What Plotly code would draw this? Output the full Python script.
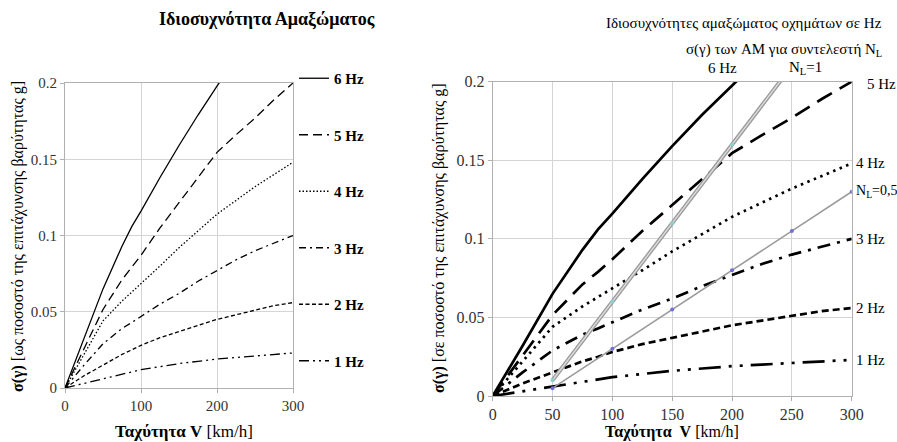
import plotly.graph_objects as go

# ---------------- data ----------------
speed = [0, 25, 50, 75, 88, 100, 125, 150, 175, 200, 225, 250, 275, 300]
hz6 = [0, 0.032, 0.065, 0.093, 0.106, 0.116, 0.138, 0.159, 0.179, 0.198, 0.216, None, None, None]
hz5 = [0, 0.026, 0.0515, 0.071, 0.079, 0.087, 0.105, 0.1215, 0.138, 0.1545, 0.166, 0.177, 0.189, 0.2]
hz4 = [0, 0.022, 0.044, 0.057, 0.063, 0.068, 0.080, 0.092, 0.103, 0.114, 0.123, 0.132, 0.140, 0.148]
hz3 = [0, 0.015, 0.029, 0.039, 0.043, 0.047, 0.055, 0.062, 0.070, 0.077, 0.084, 0.090, 0.095, 0.100]
hz2 = [0, 0.008, 0.015, 0.022, 0.025, 0.028, 0.033, 0.037, 0.041, 0.045, 0.048, 0.051, 0.054, 0.056]
hz1 = [0, 0.003, 0.006, 0.009, 0.0105, 0.012, 0.014, 0.016, 0.0175, 0.019, 0.020, 0.021, 0.022, 0.023]

nl1_speed = [50, 100, 150, 200, 250]
nl1 = [0.01, 0.06, 0.11, 0.16, 0.21]
nl05_speed = [50, 100, 150, 200, 250, 300]
nl05 = [0.005, 0.03, 0.055, 0.08, 0.105, 0.13]

series_names = ["6 Hz", "5 Hz", "4 Hz", "3 Hz", "2 Hz", "1 Hz"]
series_vals = [hz6, hz5, hz4, hz3, hz2, hz1]

left_x_ticks = [0, 100, 200, 300]
right_x_ticks = [0, 50, 100, 150, 200, 250, 300]
y_ticks = [0, 0.05, 0.1, 0.15, 0.2]
y_tick_text = ["0", "0.05", "0.1", "0.15", "0.2"]

# ---------------- styles ----------------
FONT = "Liberation Serif"
left_dash = ["solid", "9px,5px", "1.5px,2px", "7px,4px,2px,4px", "4px,2.5px", "10px,4px,2px,4px,2px,4px"]
right_dash = ["solid", "17px,9px", "2.5px,4.5px", "13px,7px,3px,7px", "7px,4px", "22px,8px,3px,8px,3px,8px"]

W, H = 897, 442
def px(x):
    return x / W
def py(y):
    return 1 - y / H

fig = go.Figure()

for i, (name, vals) in enumerate(zip(series_names, series_vals)):
    fig.add_trace(go.Scatter(
        x=speed, y=vals, mode="lines", name=name,
        line=dict(color="black", width=1.3, dash=left_dash[i]),
        xaxis="x", yaxis="y", legendgroup=name, showlegend=True,
        hoverinfo="skip"))

for i, (name, vals) in enumerate(zip(series_names, series_vals)):
    fig.add_trace(go.Scatter(
        x=speed, y=vals, mode="lines", name=name,
        line=dict(color="black", width=2.7, dash=right_dash[i]),
        xaxis="x2", yaxis="y2", showlegend=False, hoverinfo="skip"))

# N_L = 1 (double grey line)
fig.add_trace(go.Scatter(x=nl1_speed, y=nl1, mode="lines",
                         line=dict(color="#9a9a9a", width=4),
                         xaxis="x2", yaxis="y2", showlegend=False, hoverinfo="skip"))
fig.add_trace(go.Scatter(x=nl1_speed, y=nl1, mode="lines+markers",
                         line=dict(color="#dcdcdc", width=1.4),
                         marker=dict(color="#8fcfcf", size=4),
                         xaxis="x2", yaxis="y2", showlegend=False, hoverinfo="skip"))
# N_L = 0.5
fig.add_trace(go.Scatter(x=nl05_speed, y=nl05, mode="lines+markers",
                         line=dict(color="#9a9a9a", width=1.6),
                         marker=dict(color="#7070d8", size=4),
                         xaxis="x2", yaxis="y2", showlegend=False, hoverinfo="skip"))

axis_common = dict(showgrid=True, gridcolor="#d4d4d4", gridwidth=1,
                   showline=True, linecolor="#b0b0b0", linewidth=1, mirror=True,
                   ticks="outside", tickcolor="#b0b0b0", ticklen=4, automargin=False,
                   zeroline=False, tickfont=dict(family=FONT, size=15, color="#333"))
axis_right = {**axis_common, "tickfont": dict(family=FONT, size=16, color="#333")}

fig.update_layout(
    width=W, height=H,
    margin=dict(l=0, r=0, t=0, b=0, pad=0, autoexpand=False),
    paper_bgcolor="white", plot_bgcolor="white",
    font=dict(family=FONT, color="black"),
    xaxis=dict(domain=[px(65), px(293)], range=[0, 300], tickvals=left_x_ticks, **axis_common),
    yaxis=dict(domain=[py(388), py(83)], range=[0, 0.2], tickvals=y_ticks, ticktext=y_tick_text, **axis_common),
    xaxis2=dict(domain=[px(492.7), px(851.7)], range=[0, 300], tickvals=right_x_ticks, anchor="y2", **axis_right),
    yaxis2=dict(domain=[py(396), py(81.7)], range=[0, 0.2], tickvals=y_ticks, ticktext=y_tick_text, anchor="x2", **axis_right),
    legend=dict(x=px(294), y=py(62), xanchor="left", yanchor="top",
                font=dict(family=FONT, size=15, color="black", weight="bold"),
                tracegroupgap=34, bgcolor="rgba(0,0,0,0)", itemwidth=30),
    showlegend=True,
)

def pann(x, y, text, size, xanchor="center", yanchor="middle", angle=0):
    return dict(x=px(x), y=py(y), xref="paper", yref="paper", showarrow=False,
                xanchor=xanchor, yanchor=yanchor, textangle=angle,
                text=text, font=dict(family=FONT, size=size, color="black"))

ann = [
    pann(267, 20, "<b>Ιδιοσυχνότητα Αμαξώματος</b>", 18),
    pann(18, 237, "<b>σ(γ)</b> [ως ποσοστό της επιτάχυνσης βαρύτητας g]", 16, angle=-90),
    pann(184, 431, "<b>Ταχύτητα V</b> [km/h]", 17),
    pann(439, 238, "<b>σ(γ)</b> [σε ποσοστό της επιτάχυνσης βαρύτητας g]", 16, angle=-90),
    pann(672, 432, "<b>Ταχύτητα  V</b> [km/h]", 16),
    pann(884, 23, "Ιδιοσυχνότητες αμαξώματος οχημάτων σε Hz", 15, xanchor="right"),
    pann(884, 50, "σ(γ) των AM για συντελεστή N<sub>L</sub>", 15, xanchor="right"),
    pann(722, 68, "6 Hz", 15),
    pann(805, 68, "N<sub>L</sub>=1", 15),
    pann(881, 84, "5 Hz", 15),
]
# end labels attached to data ends
end_labels = [("4 Hz", hz4[-1], 15), ("N<sub>L</sub>=0,5", nl05[-1], 14), ("3 Hz", hz3[-1], 15),
              ("2 Hz", hz2[-1], 15), ("1 Hz", hz1[-1], 15)]
for txt, yv, sz in end_labels:
    ann.append(dict(x=300, y=yv, xref="x2", yref="y2", showarrow=False, xanchor="left",
                    yanchor="middle", xshift=2, text=txt,
                    font=dict(family=FONT, size=sz, color="black")))
fig.update_layout(annotations=ann)

fig.write_html("out.html", config={"displayModeBar": False},
               post_script="document.body.style.margin='0';document.body.style.overflow='hidden';")
